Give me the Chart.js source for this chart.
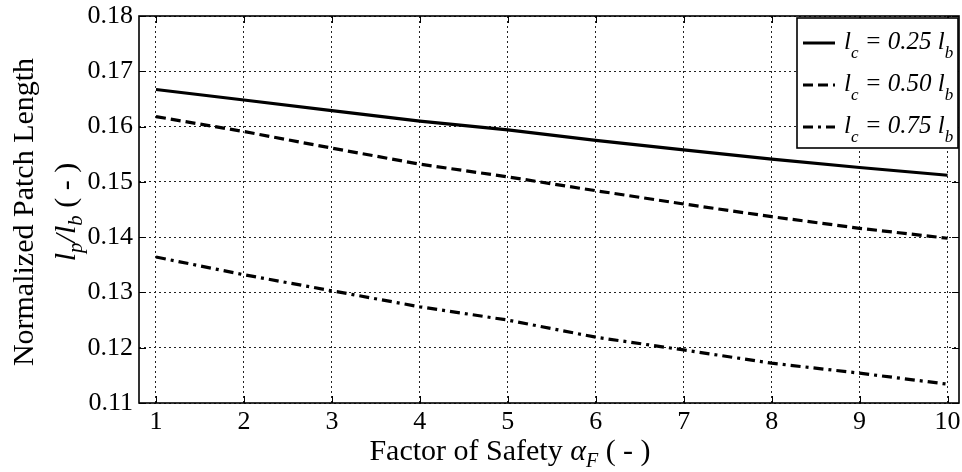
<!DOCTYPE html>
<html>
<head>
<meta charset="utf-8">
<script src="https://cdn.jsdelivr.net/npm/chart.js@4/dist/chart.umd.min.js"></script>
<style>
  html, body { margin: 0; padding: 0; background: #fff; }
  #wrap { width: 962px; height: 472px; position: relative; }
</style>
</head>
<body>
<div id="wrap"><canvas id="chart"></canvas></div>
<script>
'use strict';

// ── DATA ─────────────────────────────────────────────────────
const X_VALUES = [1, 2, 3, 4, 5, 6, 7, 8, 9, 10];
const X_TICKS  = [1, 2, 3, 4, 5, 6, 7, 8, 9, 10];
const Y_TICKS  = [0.11, 0.12, 0.13, 0.14, 0.15, 0.16, 0.17, 0.18];

const LC_025 = [0.1667, 0.1648, 0.1629, 0.1610, 0.1594, 0.1575, 0.1558, 0.1541, 0.1526, 0.1512];
const LC_050 = [0.1618, 0.1591, 0.1561, 0.1532, 0.1509, 0.1484, 0.1460, 0.1437, 0.1416, 0.1398];
const LC_075 = [0.1364, 0.1332, 0.1303, 0.1274, 0.1250, 0.1219, 0.1196, 0.1172, 0.1154, 0.1134];

const SERIES_LABELS = ['0.25', '0.50', '0.75'];

// ── STYLE ────────────────────────────────────────────────────
const SERIF = '"Liberation Serif", "Times New Roman", serif';
const DASHES = [[], [10, 5], [10, 5, 3, 5]];

const toPoints = ys => X_VALUES.map((x, i) => ({ x, y: ys[i] }));

// draw a run of text pieces (font / vertical offset) from a start x
function runWidth(ctx, runs) {
  return runs.reduce((w, r) => { ctx.font = r.font; return w + ctx.measureText(r.text).width; }, 0);
}
function drawRuns(ctx, runs, x, y) {
  runs.forEach(r => {
    ctx.font = r.font;
    ctx.fillText(r.text, x, y + (r.dy || 0));
    x += ctx.measureText(r.text).width;
  });
}

const it  = s => `italic ${s}px ${SERIF}`;
const rom = s => `${s}px ${SERIF}`;

// ── PLUGIN: frame, inner ticks, titles, legend ───────────────
const decorations = {
  id: 'decorations',
  afterDatasetsDraw(chart) {
    const { ctx, chartArea: a, scales } = chart;
    ctx.save();

    // inner tick marks on all four sides
    ctx.strokeStyle = '#000';
    ctx.lineWidth = 1;
    ctx.setLineDash([]);
    X_TICKS.forEach(v => {
      const px = Math.round(scales.x.getPixelForValue(v)) + 0.5;
      ctx.beginPath();
      ctx.moveTo(px, a.bottom); ctx.lineTo(px, a.bottom - 7);
      ctx.moveTo(px, a.top);    ctx.lineTo(px, a.top + 7);
      ctx.stroke();
    });
    Y_TICKS.forEach(v => {
      const py = Math.round(scales.y.getPixelForValue(v)) + 0.5;
      ctx.beginPath();
      ctx.moveTo(a.left, py);  ctx.lineTo(a.left + 7, py);
      ctx.moveTo(a.right, py); ctx.lineTo(a.right - 7, py);
      ctx.stroke();
    });

    // frame
    ctx.lineWidth = 1.6;
    ctx.strokeRect(a.left, a.top, a.right - a.left, a.bottom - a.top);

    // legend
    const lx = 797, ly = 18, lw = 161, lh = 130;
    ctx.fillStyle = '#fff';
    ctx.fillRect(lx, ly, lw, lh);
    ctx.strokeStyle = '#000';
    ctx.lineWidth = 1.6;
    ctx.strokeRect(lx, ly, lw, lh);

    ctx.fillStyle = '#000';
    ctx.textBaseline = 'alphabetic';
    ctx.textAlign = 'left';
    SERIES_LABELS.forEach((lab, i) => {
      const cy = 43 + i * 42;
      ctx.lineWidth = 3;
      ctx.setLineDash(DASHES[i]);
      ctx.beginPath();
      ctx.moveTo(803, cy); ctx.lineTo(835, cy);
      ctx.stroke();
      ctx.setLineDash([]);
      drawRuns(ctx, [
        { text: 'l', font: it(25) },
        { text: 'c', font: it(17), dy: 9 },
        { text: ' = ' + lab + ' ', font: it(25) },
        { text: 'l', font: it(25) },
        { text: 'b', font: it(17), dy: 9 },
      ], 844, cy + 6);
    });

    // x title
    const xRuns = [
      { text: 'Factor of Safety ', font: rom(30) },
      { text: 'α', font: it(30) },
      { text: 'F', font: it(20), dy: 7 },
      { text: ' ( - )', font: rom(30) },
    ];
    drawRuns(ctx, xRuns, 510 - runWidth(ctx, xRuns) / 2, 460);

    // y title (two lines, rotated)
    ctx.translate(0, 212);
    ctx.rotate(-Math.PI / 2);
    const y1 = [{ text: 'Normalized Patch Length', font: rom(30) }];
    drawRuns(ctx, y1, -runWidth(ctx, y1) / 2, 33);
    const y2 = [
      { text: 'l', font: it(30) },
      { text: 'p', font: it(21), dy: 7 },
      { text: '/', font: it(30) },
      { text: 'l', font: it(30) },
      { text: 'b', font: it(21), dy: 7 },
      { text: ' ( - )', font: rom(30) },
    ];
    drawRuns(ctx, y2, -runWidth(ctx, y2) / 2, 75);

    ctx.restore();
  },
};

// ── CHART ────────────────────────────────────────────────────
new Chart(document.getElementById('chart'), {
  type: 'line',
  data: {
    datasets: [LC_025, LC_050, LC_075].map((ys, i) => ({
      label: 'l_c = ' + SERIES_LABELS[i] + ' l_b',
      data: toPoints(ys),
      borderColor: '#000',
      borderWidth: 3.2,
      borderDash: DASHES[i],
      pointRadius: 0,
      fill: false,
      tension: 0,
    })),
  },
  options: {
    responsive: true,
    maintainAspectRatio: false,
    animation: false,
    layout: { padding: { left: 0, right: 3, top: 16, bottom: 0 } },
    plugins: {
      legend: { display: false },
      tooltip: { enabled: false },
    },
    scales: {
      x: {
        type: 'linear',
        min: 0.807,
        max: 10.13,
        afterBuildTicks: s => { s.ticks = X_TICKS.map(v => ({ value: v })); },
        afterFit: s => { s.height = 69; s.paddingLeft = 0; s.paddingRight = 0; },
        grid: { color: '#222', lineWidth: 1, drawTicks: false },
        border: { display: false, dash: [2, 3] },
        ticks: {
          padding: 4,
          color: '#000',
          font: { family: SERIF, size: 26 },
          maxRotation: 0,
          callback: v => String(v),
        },
      },
      y: {
        type: 'linear',
        min: 0.11,
        max: 0.18,
        afterBuildTicks: s => { s.ticks = Y_TICKS.map(v => ({ value: v })); },
        afterFit: s => { s.width = 139; s.paddingTop = 0; s.paddingBottom = 0; },
        grid: { color: '#222', lineWidth: 1, drawTicks: false },
        border: { display: false, dash: [2, 3] },
        ticks: {
          padding: 6,
          color: '#000',
          font: { family: SERIF, size: 26 },
          callback: v => v.toFixed(2),
        },
      },
    },
  },
  plugins: [decorations],
});
</script>
</body>
</html>
